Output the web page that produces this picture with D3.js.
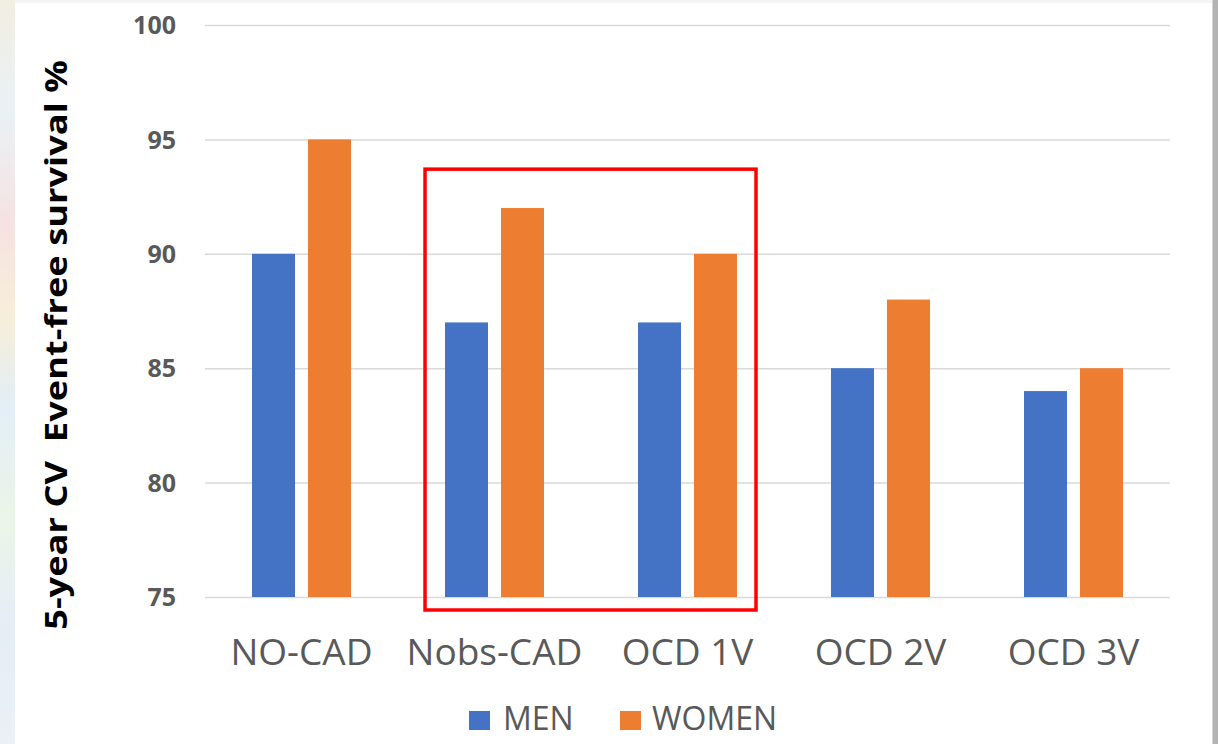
<!DOCTYPE html>
<html>
<head>
<meta charset="utf-8">
<script src="https://cdn.jsdelivr.net/npm/d3@7"></script>
<style>
  html, body { margin: 0; padding: 0; background: #ffffff; }
  svg { display: block; }
</style>
</head>
<body>
<svg id="chart" width="1218" height="744"></svg>
<script>
// Categories, series and axis ticks
const categories = ["NO-CAD", "Nobs-CAD", "OCD 1V", "OCD 2V", "OCD 3V"];
const seriesNames = ["MEN", "WOMEN"];
const menValues = [90, 87, 87, 85, 84];
const womenValues = [95, 92, 90, 88, 85];
const yTicks = [75, 80, 85, 90, 95, 100];
const yTitle = "5-year CV  Event-free survival %";
const highlighted = ["Nobs-CAD", "OCD 1V"];

const colors = { MEN: "#4472C4", WOMEN: "#ED7D31" };
const W = 1218, H = 744;
const plot = { left: 205, right: 1170, top: 25, bottom: 597 };

const svg = d3.select("#chart");
const defs = svg.append("defs");

// Soft pastel strip on the left edge and a grey shadow on the right edge
const lg = defs.append("linearGradient").attr("id", "edge").attr("x1", 0).attr("y1", 0).attr("x2", 0).attr("y2", 1);
[["0%", "#f1eee2"], ["15%", "#eaf1f5"], ["30%", "#f6e2e2"], ["42%", "#f7eed8"], ["55%", "#e3eef7"],
 ["70%", "#ebf5e7"], ["85%", "#e5edf8"], ["100%", "#ebf0f5"]]
  .forEach(([o, c]) => lg.append("stop").attr("offset", o).attr("stop-color", c));
svg.append("rect").attr("x", 0).attr("y", 0).attr("width", 15).attr("height", H).attr("fill", "url(#edge)");
svg.append("rect").attr("x", 15).attr("y", 0).attr("width", W - 20).attr("height", 3).attr("fill", "#f4f4f4");
svg.append("rect").attr("x", 1213).attr("y", 0).attr("width", 5).attr("height", H).attr("fill", "#b3b3b3");
svg.append("rect").attr("x", 1212).attr("y", 0).attr("width", 1).attr("height", H).attr("fill", "#d6d6d6");

// Scales
const x0 = d3.scaleBand().domain(categories).range([plot.left, plot.right]).paddingInner(0).paddingOuter(0);
const groupPad = 0.487;
const x1 = d3.scaleBand().domain(seriesNames)
  .range([x0.bandwidth() * groupPad / 2, x0.bandwidth() * (1 - groupPad / 2)])
  .paddingInner(0.232).paddingOuter(0);
const y = d3.scaleLinear().domain([75, 100]).range([plot.bottom, plot.top]);

// Gridlines
const grid = d3.axisLeft(y).tickValues(yTicks).tickSize(-(plot.right - plot.left)).tickFormat("");
const gGrid = svg.append("g").attr("transform", `translate(${plot.left},0)`).call(grid);
gGrid.select(".domain").remove();
gGrid.selectAll("line").attr("stroke", "#d9d9d9").attr("stroke-width", 1.5);

// Y tick labels
const yAxis = d3.axisLeft(y).tickValues(yTicks).tickSize(0).tickPadding(0).tickFormat(d3.format("d"));
const gY = svg.append("g").attr("transform", "translate(176,0)").call(yAxis);
gY.select(".domain").remove();
gY.selectAll("text")
  .attr("font-family", "'Open Sans', sans-serif")
  .attr("font-weight", "bold")
  .attr("font-size", 25)
  .attr("fill", "#595959")
  .attr("dy", "0.35em");

// Bars
const rows = categories.map((c, i) => ({ cat: c, MEN: menValues[i], WOMEN: womenValues[i] }));
const groups = svg.append("g").selectAll("g").data(rows).join("g")
  .attr("transform", d => `translate(${x0(d.cat)},0)`);
groups.selectAll("rect")
  .data(d => seriesNames.map(s => ({ key: s, value: d[s] })))
  .join("rect")
  .attr("x", d => x1(d.key))
  .attr("y", d => y(d.value))
  .attr("width", x1.bandwidth())
  .attr("height", d => y(75) - y(d.value))
  .attr("fill", d => colors[d.key]);

// Category labels
const xAxis = d3.axisBottom(x0).tickSize(0).tickPadding(0);
const gX = svg.append("g").attr("transform", "translate(0,665)").call(xAxis);
gX.select(".domain").remove();
gX.selectAll("text")
  .attr("font-family", "'Open Sans', sans-serif")
  .attr("font-size", 37)
  .attr("fill", "#595959")
  .attr("dy", 0);

// Highlight box around the two middle groups
const hx0 = x0(highlighted[0]) + x0.bandwidth() * 0.14;
const hx1 = x0(highlighted[1]) + x0.bandwidth() * 0.855;
svg.append("rect")
  .attr("x", hx0).attr("y", y(93.7))
  .attr("width", hx1 - hx0).attr("height", y(75) + 13 - y(93.7))
  .attr("fill", "none").attr("stroke", "#ff0000").attr("stroke-width", 3.5);

// Y axis title, fitted along its length
const title = svg.append("text")
  .attr("font-family", "'Open Sans', sans-serif")
  .attr("font-weight", "bold")
  .attr("font-size", 31)
  .attr("fill", "#000000")
  .attr("text-anchor", "middle")
  .style("white-space", "pre")
  .attr("xml:space", "preserve")
  .text(yTitle);
const tl = title.node().getComputedTextLength();
const sx = 570 / tl;
title.attr("transform", `translate(67,345) rotate(-90) scale(${sx},1)`);

// Legend
const legendItems = [
  { key: "MEN", sx: 469, tx: 503 },
  { key: "WOMEN", sx: 620, tx: 652 }
];
const lgG = svg.append("g");
legendItems.forEach(it => {
  lgG.append("rect").attr("x", it.sx).attr("y", 711).attr("width", 21).attr("height", 19).attr("fill", colors[it.key]);
  lgG.append("text").attr("x", it.tx).attr("y", 730)
    .attr("font-family", "'Open Sans', sans-serif").attr("font-size", 32)
    .attr("fill", "#595959").text(it.key);
});
</script>
</body>
</html>
